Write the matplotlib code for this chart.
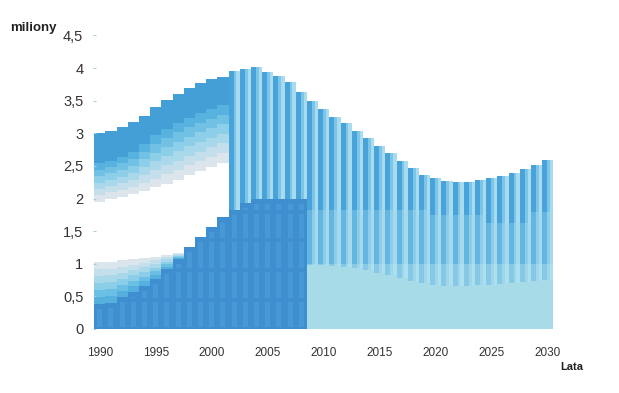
import numpy as np
import matplotlib.pyplot as plt

# --- data (miliony) ---
years_left = list(range(1990, 2002))
years_right = list(range(2002, 2031))
years_dark = list(range(1990, 2009))
years_light = list(range(2009, 2031))

total_left = [3.00, 3.03, 3.09, 3.17, 3.27, 3.40, 3.51, 3.60, 3.69, 3.77, 3.83, 3.86]
upper_base = [1.95, 2.00, 2.03, 2.07, 2.12, 2.17, 2.23, 2.29, 2.36, 2.42, 2.49, 2.55]
upper_dark_base = [2.54, 2.58, 2.64, 2.72, 2.84, 2.97, 3.07, 3.16, 3.24, 3.31, 3.37, 3.43]
lower_top = [1.02, 1.03, 1.05, 1.07, 1.09, 1.11, 1.14, 1.17, 1.21, 1.25, 1.29, 1.33]

dark_series = [0.39, 0.40, 0.49, 0.57, 0.66, 0.77, 0.92, 1.08, 1.26, 1.41,
               1.57, 1.71, 1.82, 1.93, 1.99, 1.99, 1.99, 1.99, 1.99]

total_right = [3.96, 3.99, 4.01, 3.94, 3.88, 3.78, 3.63, 3.49, 3.37, 3.25,
               3.15, 3.04, 2.92, 2.81, 2.69, 2.57, 2.46, 2.36, 2.32, 2.27,
               2.26, 2.26, 2.28, 2.31, 2.35, 2.39, 2.45, 2.52, 2.59]
band_hi = [1.80, 1.80, 1.80, 1.80, 1.80, 1.80, 1.80, 1.82, 1.82, 1.82,
           1.82, 1.82, 1.82, 1.82, 1.82, 1.82, 1.82, 1.82, 1.75, 1.75,
           1.75, 1.75, 1.75, 1.63, 1.63, 1.63, 1.63, 1.80, 1.80]

light_top = [0.98, 0.98, 0.97, 0.95, 0.93, 0.90, 0.86, 0.82, 0.78, 0.74, 0.70,
             0.67, 0.66, 0.66, 0.66, 0.67, 0.68, 0.69, 0.70, 0.72, 0.74, 0.75]

y_ticks = [0, 0.5, 1, 1.5, 2, 2.5, 3, 3.5, 4, 4.5]
y_labels = ["0", "0,5", "1", "1,5", "2", "2,5", "3", "3,5", "4", "4,5"]
x_ticks = [1990, 1995, 2000, 2005, 2010, 2015, 2020, 2025, 2030]

# colours
upper_grad = ["#dce5ec", "#c4dfeb", "#a9d8ea", "#8dcee8", "#70c1e4", "#57b2df"]
upper_dark = "#449fd6"
lower_grad = ["#56b0de", "#6cbfe4", "#8bcee8", "#a8d8ea", "#c3dfeb", "#dae5ec"]
dark_col = "#3e8ed0"
dark_cell = "#4799d6"
light_col = "#a8dbe8"

plt.rcParams['font.family'] = ['Liberation Sans', 'DejaVu Sans']

fig = plt.figure(figsize=(6.19, 3.93), dpi=100)
ax = fig.add_axes([93 / 619, 64 / 393, 461 / 619, 293.6 / 393])

# left section: upper stack with gradient layers
yl = np.array(years_left)
ub = np.array(upper_base)
ud = np.array(upper_dark_base)
step = (ud - ub) / len(upper_grad)
for i, c in enumerate(upper_grad):
    ax.bar(yl, step, bottom=ub + i * step, width=1.0, color=c, linewidth=0)
ax.bar(yl, np.array(total_left) - ud, bottom=ud, width=1.0, color=upper_dark, linewidth=0)

# left section: lower band gradient (above the dark series)
lt = np.array(lower_top)
ds_left = np.array(dark_series[:len(years_left)])
lstep = (lt - ds_left) / len(lower_grad)
for i, c in enumerate(lower_grad):
    ax.bar(yl, lstep, bottom=ds_left + i * lstep, width=1.0, color=c, linewidth=0)


# right section: striped bars
def striped(x, lo, hi, cols):
    if hi <= lo:
        return
    for (x0, x1), c in zip([(-0.5, -0.05), (-0.05, 0.2), (0.2, 0.5)], cols):
        ax.bar(x + x0, hi - lo, bottom=lo, width=x1 - x0, align='edge',
               color=c, linewidth=0)


strong = ["#47a3da", "#7cc5e8", "#a9dbee"]
medium = ["#62b6e1", "#8ecde9", "#a7d9ec"]
pale = ["#86c9e7", "#a0d5ea", "#ace0ee"]
for x, top, bh in zip(years_right, total_right, band_hi):
    striped(x, bh, top, strong)
    striped(x, 1.0, bh, medium)
    striped(x, 0.0, 1.0, pale)

# light area 2009-2030
ax.bar(years_light, light_top, width=1.0, color=light_col, linewidth=0)

# dark series 1990-2008 with lighter cells
ax.bar(years_dark, dark_series, width=1.0, color=dark_col, linewidth=0)
cells = [(0.03, 0.42), (0.48, 0.88), (0.94, 1.34), (1.40, 1.76), (1.82, 1.95)]
for x, top in zip(years_dark, dark_series):
    for lo, hi in cells:
        hi = min(hi, top - 0.08)
        if hi > lo:
            ax.bar(x, hi - lo, bottom=lo, width=0.45, color=dark_cell, linewidth=0)

ax.set_xlim(1989.4, 2030.55)
ax.set_ylim(0, 4.5)
for s in ax.spines.values():
    s.set_visible(False)
ax.set_yticks(y_ticks)
ax.set_yticklabels(y_labels)
ax.set_xticks(x_ticks)
ax.tick_params(axis='y', direction='in', length=2, color="#a8cfe6",
               labelsize=10.5, labelcolor="#333333", pad=7)
ax.tick_params(axis='x', length=0, labelsize=8.5, labelcolor="#333333", pad=13)

fig.text(10 / 619, 1 - 31 / 393, "miliony", fontsize=9.5, fontweight='bold',
         color="#222222")
fig.text(560 / 619, 1 - 370 / 393, "Lata", fontsize=8, fontweight='bold',
         color="#222222")

fig.savefig("out.png", dpi=100)
